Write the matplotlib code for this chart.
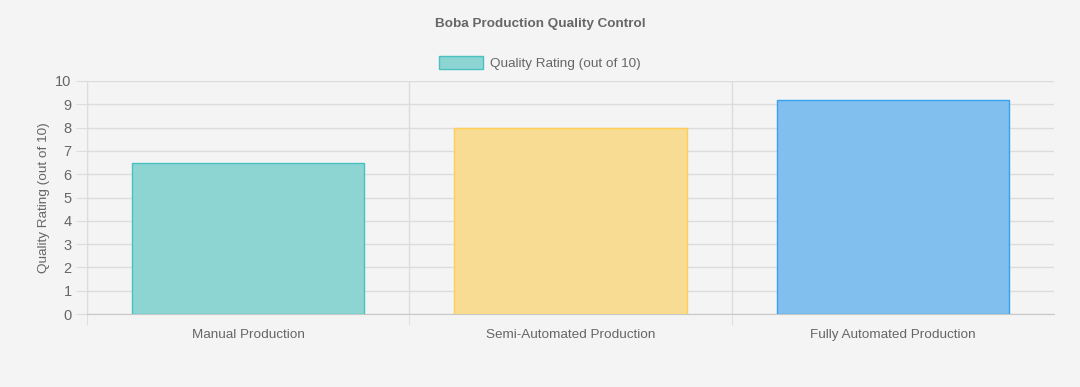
import matplotlib.pyplot as plt
from matplotlib.patches import Patch

categories = ["Manual Production", "Semi-Automated Production", "Fully Automated Production"]
ratings = [6.5, 8.0, 9.2]
fill_colors = ["#8dd5d3", "#f9dc93", "#81c0ee"]
edge_colors = ["#4bc0c0", "#ffce56", "#36a2eb"]
series_name = "Quality Rating (out of 10)"

bg = "#f4f4f4"
grid_c = "#dcdcdc"
text_c = "#666666"

plt.rcParams["font.family"] = ["Liberation Sans", "DejaVu Sans"]

fig = plt.figure(figsize=(10.8, 3.87), dpi=100, facecolor=bg)
ax = fig.add_axes([87 / 1080, 1 - 314 / 387, (1054 - 87) / 1080, (314 - 81) / 387])
ax.set_facecolor(bg)

x = list(range(len(categories)))
ax.bar(x, ratings, width=0.72, color=fill_colors, edgecolor=edge_colors, linewidth=1, zorder=3)

ax.set_xlim(-0.5, len(categories) - 0.5)
ax.set_ylim(0, 10)
ax.set_yticks(range(0, 11))
ax.set_xticks(x)
ax.set_xticklabels(categories)
# category separators (no line at the far right edge)
ax.set_xticks([i - 0.5 for i in range(len(categories))], minor=True)

ax.grid(axis="y", color=grid_c, linewidth=1, zorder=0)
ax.grid(axis="x", which="minor", color=grid_c, linewidth=1, zorder=0)
ax.tick_params(axis="x", which="major", length=0, pad=11, labelsize=9.7, labelcolor=text_c)
ax.tick_params(axis="x", which="minor", length=8, color=grid_c)
ax.tick_params(axis="y", length=8, color=grid_c, pad=3, labelsize=10.5, labelcolor=text_c)

for s in ["top", "right"]:
    ax.spines[s].set_visible(False)
ax.spines["left"].set_color(grid_c)
ax.spines["bottom"].set_color("#c8c8c8")

ax.set_ylabel(series_name, color=text_c, fontsize=9.7, labelpad=4)

fig.text(0.5, 1 - 24 / 387, "Boba Production Quality Control", ha="center", va="center",
         fontsize=9.7, fontweight="bold", color=text_c)

handle = Patch(facecolor=fill_colors[0], edgecolor=edge_colors[0], linewidth=1)
fig.legend([handle], [series_name], loc="center", bbox_to_anchor=(0.5, 1 - 63 / 387),
           frameon=False, fontsize=9.7, labelcolor=text_c, handlelength=3.3, handleheight=1.1,
           handletextpad=0.5)

fig.savefig("out.png", dpi=100, facecolor=bg)
